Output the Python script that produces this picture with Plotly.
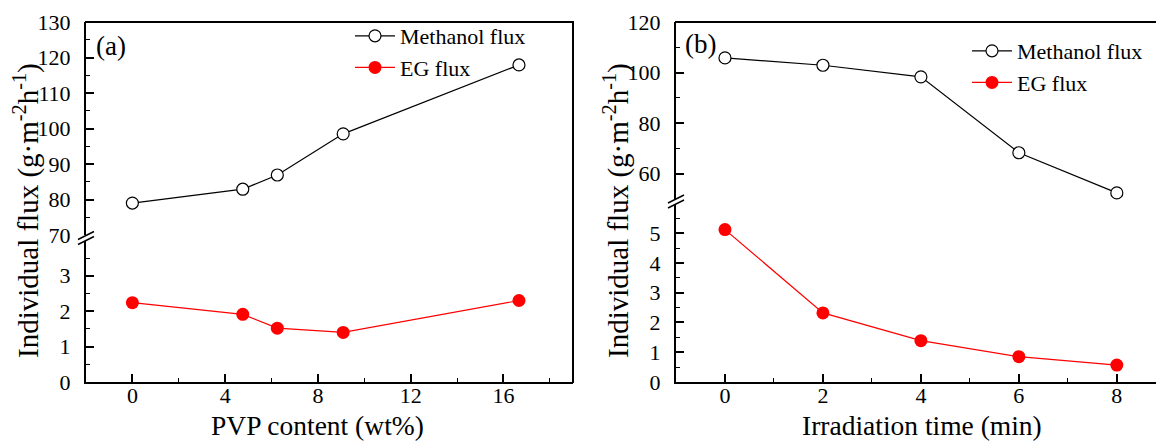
import plotly.graph_objects as go

# ---------------- data ----------------
pvp_content = [0, 4.76, 6.25, 9.09, 16.67]
methanol_flux_a = [79.0, 82.9, 86.9, 98.5, 117.9]
eg_flux_a = [2.24, 1.91, 1.52, 1.40, 2.30]

irradiation_time = [0, 2, 4, 6, 8]
methanol_flux_b = [105.8, 102.9, 98.3, 68.3, 52.4]
eg_flux_b = [5.12, 2.32, 1.39, 0.85, 0.57]

series_names = ["Methanol flux", "EG flux"]
x_titles = ["PVP content (wt%)", "Irradiation time (min)"]
y_title = "Individual flux (g·m<sup>-2</sup>h<sup>-1</sup>)"
panel_labels = ["(a)", "(b)"]

# ---------------- layout helpers ----------------
W, H = 1156, 441
FONT = "Liberation Serif, Times New Roman, serif"


def fx(px):
    return px / W


def fy(py):
    return 1 - py / H


fig = go.Figure()

open_marker = dict(symbol="circle", size=12, color="white", line=dict(color="black", width=1.2))
red_marker = dict(symbol="circle", size=13, color="#ff0000", line=dict(color="#ff0000", width=0))

# panel (a)
fig.add_trace(go.Scatter(x=pvp_content, y=methanol_flux_a, name=series_names[0], mode="lines+markers",
                         line=dict(color="black", width=1.2), marker=open_marker,
                         xaxis="x", yaxis="y2", legend="legend", cliponaxis=False))
fig.add_trace(go.Scatter(x=pvp_content, y=eg_flux_a, name=series_names[1], mode="lines+markers",
                         line=dict(color="#ff0000", width=1.2), marker=red_marker,
                         xaxis="x", yaxis="y", legend="legend", cliponaxis=False))
# panel (b)
fig.add_trace(go.Scatter(x=irradiation_time, y=methanol_flux_b, name=series_names[0], mode="lines+markers",
                         line=dict(color="black", width=1.2), marker=open_marker,
                         xaxis="x2", yaxis="y4", legend="legend2", cliponaxis=False))
fig.add_trace(go.Scatter(x=irradiation_time, y=eg_flux_b, name=series_names[1], mode="lines+markers",
                         line=dict(color="#ff0000", width=1.2), marker=red_marker,
                         xaxis="x2", yaxis="y3", legend="legend2", cliponaxis=False))

tickfont = dict(family=FONT, size=22, color="black")


def xaxis(dom, rng, dtick, mdtick, anchor):
    return dict(domain=dom, range=rng, dtick=dtick, tick0=0, anchor=anchor,
                showline=True, linewidth=2, linecolor="black", showgrid=False, zeroline=False,
                ticks="inside", ticklen=8, tickwidth=1.6, tickcolor="black",
                minor=dict(dtick=mdtick, tick0=0, ticks="inside", ticklen=4, tickwidth=1.4,
                           tickcolor="black", showgrid=False),
                tickfont=tickfont, ticklabelstandoff=-7, fixedrange=True)


def yaxis(dom, rng, dtick, mdtick, anchor):
    return dict(domain=dom, range=rng, dtick=dtick, tick0=0, anchor=anchor,
                showline=True, linewidth=2, linecolor="black", showgrid=False, zeroline=False,
                ticks="inside", ticklen=8, tickwidth=1.6, tickcolor="black",
                minor=dict(dtick=mdtick, tick0=0, ticks="inside", ticklen=4, tickwidth=1.4,
                           tickcolor="black", showgrid=False),
                tickfont=tickfont, ticklabelstandoff=9, fixedrange=True)


fig.update_layout(
    width=W, height=H,
    margin=dict(l=0, r=0, t=0, b=0, autoexpand=False),
    paper_bgcolor="white", plot_bgcolor="rgba(0,0,0,0)",
    font=dict(family=FONT, color="black"),
    xaxis=xaxis([fx(86), fx(573)], [-2, 19], 4, 2, "y"),
    xaxis2=xaxis([fx(676), 1.0], [-1, 8.8], 2, 1, "y3"),
    yaxis=yaxis([fy(382), fy(241)], [0, 3.98], 1, 0.5, "x"),
    yaxis2=yaxis([fy(235), fy(22)], [70, 130], 10, 5, "x"),
    yaxis3=yaxis([fy(382), fy(204)], [0, 5.98], 1, 0.5, "x2"),
    yaxis4=yaxis([fy(199), fy(22)], [50, 120], 20, 10, "x2"),
    legend=dict(x=fx(350), y=fy(15), xanchor="left", yanchor="top", bgcolor="rgba(0,0,0,0)",
                font=dict(family=FONT, size=22, color="black"), tracegroupgap=0, itemwidth=40),
    legend2=dict(x=fx(967), y=fy(30), xanchor="left", yanchor="top", bgcolor="rgba(0,0,0,0)",
                 font=dict(family=FONT, size=22, color="black"), tracegroupgap=0, itemwidth=40),
)

shapes = []
line_style = dict(color="black", width=2)
# frame: top and right of panel (a), top of panel (b)
shapes.append(dict(type="line", xref="paper", yref="paper", x0=fx(85), x1=fx(574), y0=fy(22), y1=fy(22), line=line_style))
shapes.append(dict(type="line", xref="paper", yref="paper", x0=fx(573), x1=fx(573), y0=fy(22), y1=fy(383), line=line_style))
shapes.append(dict(type="line", xref="paper", yref="paper", x0=fx(675), x1=1.0, y0=fy(22), y1=fy(22), line=line_style))
# axis break marks
for (cx, cy) in [(86, 238), (676, 201.5)]:
    for dy in (-2.5, 2.5):
        shapes.append(dict(type="line", xref="paper", yref="paper",
                           x0=fx(cx - 8), y0=fy(cy + dy + 4), x1=fx(cx + 8), y1=fy(cy + dy - 4),
                           line=dict(color="black", width=1.5)))
fig.update_layout(shapes=shapes)

xtitle_font = dict(family=FONT, size=27.5, color="black")
ytitle_font = dict(family=FONT, size=29, color="black")
annotations = [
    dict(text=x_titles[0], x=fx(317), y=fy(425), xref="paper", yref="paper", showarrow=False,
         xanchor="center", yanchor="middle", font=xtitle_font),
    dict(text=x_titles[1], x=fx(922), y=fy(425), xref="paper", yref="paper", showarrow=False,
         xanchor="center", yanchor="middle", font=xtitle_font),
    dict(text=y_title, x=fx(26), y=fy(211), xref="paper", yref="paper", showarrow=False,
         textangle=-90, xanchor="center", yanchor="middle", font=ytitle_font),
    dict(text=y_title, x=fx(616), y=fy(210), xref="paper", yref="paper", showarrow=False,
         textangle=-90, xanchor="center", yanchor="middle", font=ytitle_font),
    dict(text=panel_labels[0], x=fx(111), y=fy(46), xref="paper", yref="paper", showarrow=False,
         xanchor="center", yanchor="middle", font=dict(family=FONT, size=27, color="black")),
    dict(text=panel_labels[1], x=fx(700), y=fy(44), xref="paper", yref="paper", showarrow=False,
         xanchor="center", yanchor="middle", font=dict(family=FONT, size=27, color="black")),
]
fig.update_layout(annotations=annotations)

fig.write_html("out.html", config={"displayModeBar": False},
               post_script="document.body.style.margin='0';document.body.style.overflow='hidden';")
